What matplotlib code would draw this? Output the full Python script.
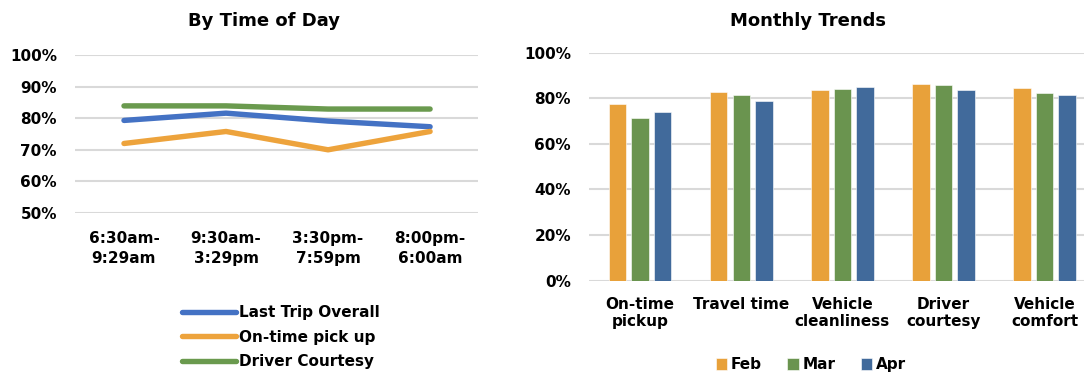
import matplotlib.pyplot as plt
from matplotlib.ticker import FuncFormatter
import numpy as np

plt.rcParams["font.family"] = ["DejaVu Sans"]
plt.rcParams["font.weight"] = "bold"

# By Time of Day
time_slots = ["6:30am-\n9:29am", "9:30am-\n3:29pm", "3:30pm-\n7:59pm", "8:00pm-\n6:00am"]
last_trip_overall = [79.3, 81.6, 79.1, 77.3]
on_time_pick_up = [72.0, 75.8, 70.0, 75.8]
driver_courtesy = [83.9, 83.9, 82.9, 82.9]

# Monthly Trends
categories = ["On-time\npickup", "Travel time", "Vehicle\ncleanliness", "Driver\ncourtesy", "Vehicle\ncomfort"]
months = ["Feb", "Mar", "Apr"]
feb = [77.5, 82.7, 83.8, 86.1, 84.5]
mar = [71.5, 81.4, 84.1, 85.8, 82.5]
apr = [74.0, 78.7, 84.8, 83.6, 81.4]

GRID = "#D9D9D9"
LINE_COLORS = ["#4472C4", "#EDA33C", "#6A9A4E"]
BAR_COLORS = ["#E8A13A", "#6A944F", "#416A9B"]
pct = FuncFormatter(lambda v, _: f"{v:.0f}%")

fig = plt.figure(figsize=(10.84, 3.75), dpi=100)

# left panel
ax = fig.add_axes([0.0692, 0.432, 0.3718, 0.4213])
x = np.arange(len(time_slots))
for vals, lab, c in zip([last_trip_overall, on_time_pick_up, driver_courtesy],
                        ["Last Trip Overall", "On-time pick up", "Driver Courtesy"],
                        LINE_COLORS):
    ax.plot(x, vals, color=c, linewidth=3.9, solid_capstyle="round",
            solid_joinstyle="round", label=lab, clip_on=False, zorder=3)
ax.set_xlim(-0.48, 3.47)
ax.set_ylim(50, 100)
ax.set_yticks(range(50, 101, 10))
ax.yaxis.set_major_formatter(pct)
ax.set_xticks(x)
ax.set_xticklabels(time_slots, fontsize=11, linespacing=1.4)
ax.tick_params(axis="y", length=0, pad=13, labelsize=11)
ax.tick_params(axis="x", length=0, pad=13)
ax.grid(axis="y", color=GRID, linewidth=1.5)
ax.set_axisbelow(True)
for s in ax.spines.values():
    s.set_visible(False)
fig.text(0.2435, 0.944, "By Time of Day", ha="center", va="center",
         fontsize=13, fontweight="bold")
ax.legend(loc="upper left", bbox_to_anchor=(0.168, 0.186), bbox_transform=fig.transFigure,
          frameon=False, fontsize=11, handlelength=3.5, handletextpad=0.2,
          labelspacing=0.62, borderpad=0, borderaxespad=0)

# right panel
ax2 = fig.add_axes([0.5434, 0.2515, 0.4567, 0.608])
xc = np.arange(len(categories))
w = 0.173
step = 0.223
for i, (vals, lab, c) in enumerate(zip([feb, mar, apr], months, BAR_COLORS)):
    ax2.bar(xc + (i - 1) * step, vals, width=w, color=c, label=lab,
            edgecolor="white", linewidth=0.4, zorder=3)
ax2.set_xlim(-0.505, 4.39)
ax2.set_ylim(0, 100)
ax2.set_yticks(range(0, 101, 20))
ax2.yaxis.set_major_formatter(pct)
ax2.set_xticks(xc)
ax2.set_xticklabels(categories, fontsize=11, linespacing=1.15)
ax2.tick_params(axis="y", length=0, pad=13, labelsize=11)
ax2.tick_params(axis="x", length=0, pad=12)
ax2.grid(axis="y", color=GRID, linewidth=1.5)
ax2.set_axisbelow(True)
for s in ax2.spines.values():
    s.set_visible(False)
fig.text(0.745, 0.944, "Monthly Trends", ha="center", va="center",
         fontsize=13, fontweight="bold")
ax2.legend(loc="center", bbox_to_anchor=(0.748, 0.027), bbox_transform=fig.transFigure,
           ncol=3, frameon=False, fontsize=11, handlelength=0.75, handleheight=0.75,
           handletextpad=0.25, columnspacing=1.65, borderpad=0, borderaxespad=0)

fig.savefig("out.png", dpi=100)
